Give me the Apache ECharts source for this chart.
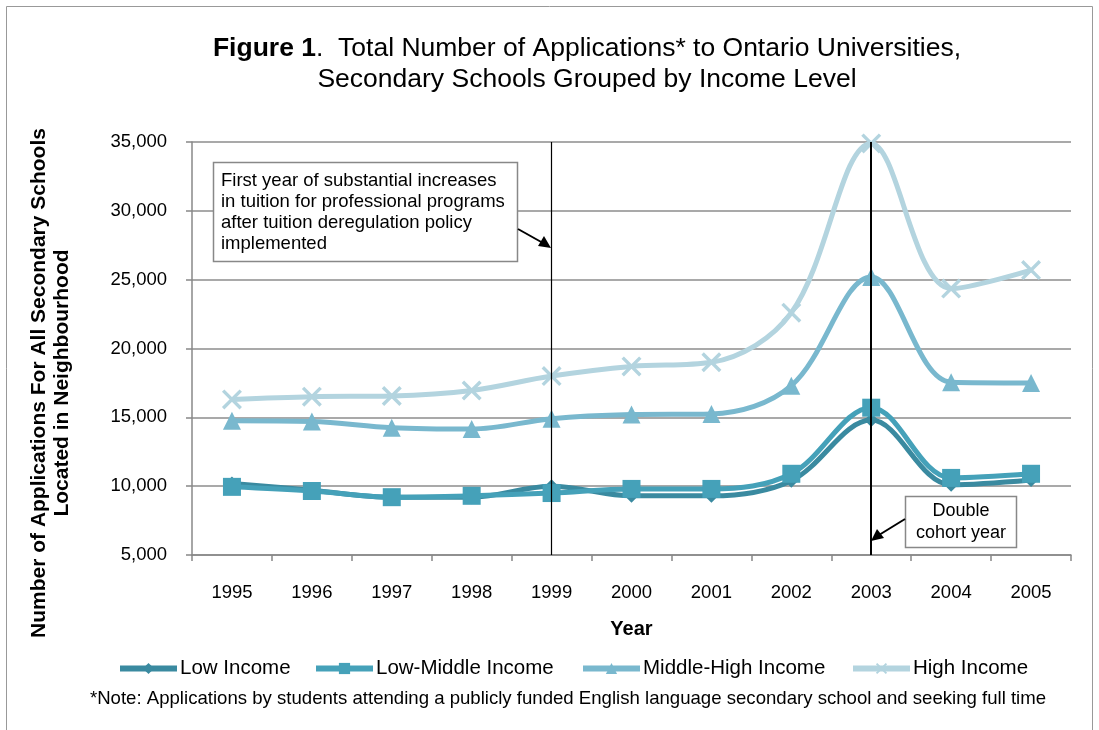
<!DOCTYPE html>
<html><head><meta charset="utf-8">
<script src="https://cdn.jsdelivr.net/npm/echarts@6/dist/echarts.min.js"></script>
<style>html,body{margin:0;padding:0;background:#fff}#c{width:1099px;height:730px}</style>
</head><body><div id="c"></div>
<script>
const years = ['1995','1996','1997','1998','1999','2000','2001','2002','2003','2004','2005'];
const lowIncome = [10200, 9700, 9200, 9200, 10000, 9300, 9300, 10400, 14800, 10100, 10450];
const lowMiddleIncome = [9950, 9650, 9200, 9300, 9500, 9800, 9800, 10900, 15700, 10600, 10900];
const middleHighIncome = [14750, 14700, 14250, 14150, 14900, 15200, 15250, 17300, 25200, 17550, 17500];
const highIncome = [16300, 16500, 16550, 16950, 18000, 18700, 19000, 22600, 34900, 24350, 25700];
const seriesNames = ['Low Income', 'Low-Middle Income', 'Middle-High Income', 'High Income'];
const markYears = ['1999', '2003'];
const yTicks = {min: 5000, max: 35000, interval: 5000};

const colLow = '#3a8aa0', colLM = '#45a1b9', colMH = '#79b8ce', colH = '#b3d4df';
const xSym = 'path://M0,1.2 L1.2,0 L10,8.8 L8.8,10 Z M8.8,0 L10,1.2 L1.2,10 L0,8.8 Z';
const font = 'Liberation Sans, Arial, sans-serif';

const chart = echarts.init(document.getElementById('c'));
function mk(name, data, color, symbol, size) {
  return {name, type: 'line', data, smooth: 0.35, symbol, symbolSize: size,
    lineStyle: {color, width: 5}, itemStyle: {color}, z: 3};
}
const series = [
  mk(seriesNames[0], lowIncome, colLow, 'diamond', 14),
  mk(seriesNames[1], lowMiddleIncome, colLM, 'rect', 18),
  mk(seriesNames[2], middleHighIncome, colMH, 'triangle', 18),
  mk(seriesNames[3], highIncome, colH, xSym, 20)
];
series[0].markLine = {silent: true, symbol: 'none', label: {show: false}, z: 10,
  data: [
    {xAxis: markYears[0], lineStyle: {color: '#000', width: 1.2, type: 'solid'}},
    {xAxis: markYears[1], lineStyle: {color: '#000', width: 2, type: 'solid'}}
  ]};

const legendLefts = [117, 313, 580, 850];
const legends = seriesNames.map((n, i) => ({
  left: legendLefts[i], top: 658, itemWidth: 57, itemHeight: 14, padding: 0,
  lineStyle: {width: 6},
  textStyle: {fontFamily: font, fontSize: 20.5, color: '#000', padding: [0, 0, 0, -2]},
  data: [n]
}));

chart.setOption({
  animation: false,
  title: {
    text: '{b|Figure 1}.  Total Number of Applications* to Ontario Universities,\nSecondary Schools Grouped by Income Level',
    left: 587, top: 33, textAlign: 'center', padding: 0,
    textStyle: {fontFamily: font, fontSize: 26.5, fontWeight: 'normal', color: '#000', lineHeight: 31,
      rich: {b: {fontFamily: font, fontSize: 26.5, fontWeight: 'bold', color: '#000', lineHeight: 31}}}
  },
  grid: {left: 192, right: 28, top: 142, bottom: 175},
  legend: legends,
  xAxis: {
    type: 'category', data: years, boundaryGap: true,
    axisLine: {lineStyle: {color: '#888', width: 1.5}},
    axisTick: {show: true, length: 6, lineStyle: {color: '#888', width: 1.5}},
    axisLabel: {fontFamily: font, fontSize: 18.5, color: '#000', margin: 28},
    name: 'Year', nameLocation: 'middle', nameGap: 64,
    nameTextStyle: {fontFamily: font, fontSize: 20, fontWeight: 'bold', color: '#000'}
  },
  yAxis: {
    type: 'value', min: yTicks.min, max: yTicks.max, interval: yTicks.interval,
    axisLine: {show: true, lineStyle: {color: '#888', width: 1.5}},
    axisTick: {show: true, length: 6, lineStyle: {color: '#888', width: 1.5}},
    axisLabel: {fontFamily: font, fontSize: 18.5, color: '#000', margin: 25,
      formatter: v => v.toLocaleString('en-US')},
    splitLine: {lineStyle: {color: '#8c8c8c', width: 1.5}}
  },
  series,
  graphic: [
    {type: 'rect', shape: {x: 6.5, y: 6.5, width: 1086, height: 760}, style: {fill: 'none', stroke: '#999', lineWidth: 1}, silent: true},
    {type: 'text', x: 51, y: 383, rotation: Math.PI / 2,
      style: {text: 'Number of Applications For All Secondary Schools\nLocated in Neighbourhood',
        fontFamily: font, fontSize: 21, fontWeight: 'bold', fill: '#000', align: 'center', verticalAlign: 'middle', lineHeight: 23}},
    {type: 'text', x: 568, y: 699,
      style: {text: '*Note: Applications by students attending a publicly funded English language secondary school and seeking full time',
        fontFamily: font, fontSize: 18.6, fill: '#000', align: 'center', verticalAlign: 'middle'}},
    {type: 'rect', z: 20, shape: {x: 213.5, y: 162.5, width: 304, height: 99}, style: {fill: '#fff', stroke: '#888', lineWidth: 1.5}},
    {type: 'text', z: 21, x: 221, y: 170,
      style: {text: 'First year of substantial increases\nin tuition for professional programs\nafter tuition deregulation policy\nimplemented',
        fontFamily: font, fontSize: 18.5, fill: '#000', lineHeight: 21}},
    {type: 'line', z: 21, shape: {x1: 518, y1: 229, x2: 543, y2: 243}, style: {stroke: '#000', lineWidth: 2}},
    {type: 'polygon', z: 21, shape: {points: [[551, 248], [538, 246], [544, 236]]}, style: {fill: '#000'}},
    {type: 'rect', z: 20, shape: {x: 905.5, y: 496.5, width: 111, height: 51}, style: {fill: '#fff', stroke: '#888', lineWidth: 1.5}},
    {type: 'text', z: 21, x: 961, y: 522,
      style: {text: 'Double\ncohort year', fontFamily: font, fontSize: 18, fill: '#000', align: 'center', verticalAlign: 'middle', lineHeight: 22}},
    {type: 'line', z: 21, shape: {x1: 905, y1: 519, x2: 879, y2: 535}, style: {stroke: '#000', lineWidth: 2}},
    {type: 'polygon', z: 21, shape: {points: [[871, 541], [877, 529], [884, 538]]}, style: {fill: '#000'}}
  ]
});
</script></body></html>
